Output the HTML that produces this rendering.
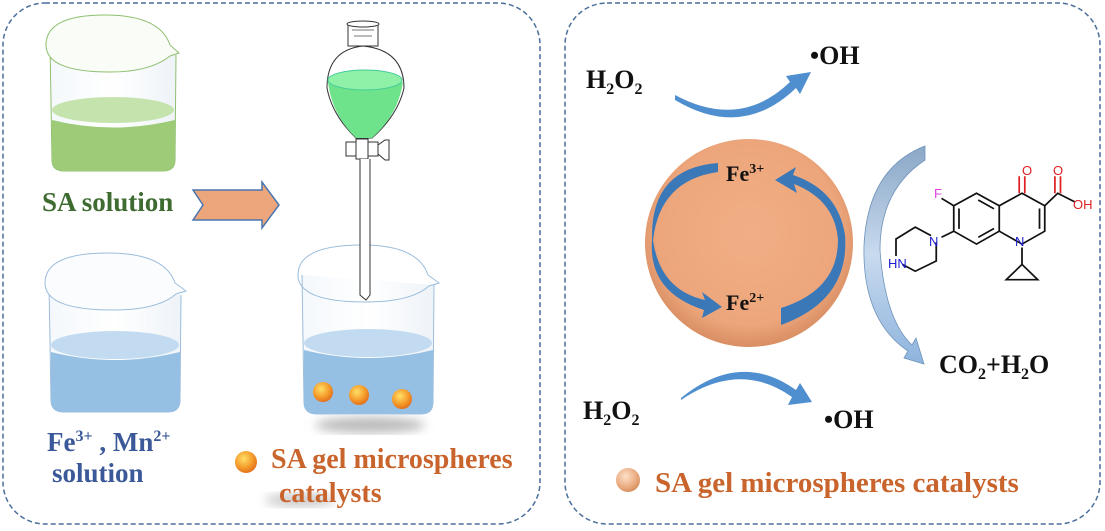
<!DOCTYPE html>
<html><head><meta charset="utf-8"><style>
html,body{margin:0;padding:0;background:#fff;}
svg{display:block;font-family:"Liberation Serif",serif;font-weight:bold;}
</style></head><body>
<svg width="1105" height="531" viewBox="0 0 1105 531" xmlns="http://www.w3.org/2000/svg">
<defs>
<linearGradient id="gl" x1="0" x2="1"><stop offset="0" stop-color="#f4f8fc"/><stop offset="0.5" stop-color="#fff"/><stop offset="1" stop-color="#eef3f8"/></linearGradient>
<radialGradient id="sp" cx="0.4" cy="0.35" r="0.7"><stop offset="0" stop-color="#ffe066"/><stop offset="0.6" stop-color="#f59a2a"/><stop offset="1" stop-color="#e06a1a"/></radialGradient>
<radialGradient id="big" cx="0.5" cy="0.45" r="0.55"><stop offset="0" stop-color="#f1ae84"/><stop offset="0.8" stop-color="#eda67c"/><stop offset="1" stop-color="#d98e63"/></radialGradient>
<radialGradient id="leg" cx="0.4" cy="0.35" r="0.7"><stop offset="0" stop-color="#fde0c8"/><stop offset="0.7" stop-color="#e8a77a"/><stop offset="1" stop-color="#d08a5a"/></radialGradient>
<linearGradient id="bigarr" x1="0" y1="0" x2="0" y2="1"><stop offset="0" stop-color="#8aa7c6"/><stop offset="0.5" stop-color="#c8daee"/><stop offset="1" stop-color="#8eb4dd"/></linearGradient>
<filter id="blur"><feGaussianBlur stdDeviation="5"/></filter>
</defs>
<rect x="3" y="3" width="537" height="521" rx="42" fill="none" stroke="#4a6f9a" stroke-width="1.5" stroke-dasharray="5,3"/>
<rect x="565" y="3" width="535" height="521" rx="42" fill="none" stroke="#4a6f9a" stroke-width="1.5" stroke-dasharray="5,3"/>

<g>
<path d="M50 45 L52 160 Q52 171 64 171 L163 171 Q175 171 175 160 L176 55" fill="url(#gl)" stroke="#8fbf70" stroke-width="1"/>
<path d="M52 120 Q113 135 175 120 L175 160 Q175 171 163 171 L64 171 Q52 171 52 160 Z" fill="#9dcb78"/>
<ellipse cx="113" cy="110" rx="61" ry="13" fill="#c5e3ac"/>
<path d="M46 45 Q46 15 105 15 Q160 15 170 45 L179 53 L170 56 Q150 72 110 72 Q46 72 46 45 Z" fill="#fafdf7" stroke="#8fbf70" stroke-width="1"/>
</g>
<text x="42" y="211" font-size="27" fill="#3d6b30">SA solution</text>
<path d="M193 190 L262 190 L262 182 L279 205 L262 228 L262 220 L193 220 L203 205 Z" fill="#eda67c" stroke="#4a77b0" stroke-width="1.5"/>

<g>
<path d="M49 285 L51 400 Q51 412 64 412 L168 412 Q180 412 180 400 L181 295" fill="url(#gl)" stroke="#9cbddc" stroke-width="1"/>
<path d="M51 352 Q115 368 180 352 L180 400 Q180 412 168 412 L64 412 Q51 412 51 400 Z" fill="#96bfe4"/>
<ellipse cx="115" cy="345" rx="64" ry="14" fill="#c3dbf0"/>
<path d="M45 283 Q45 253 108 253 Q165 253 175 283 L186 291 L176 294 Q158 310 113 310 Q45 310 45 283 Z" fill="#fbfcfe" stroke="#9cbddc" stroke-width="1"/>
</g>
<text x="47" y="451" font-size="27" fill="#3b5998">Fe<tspan font-size="16" dy="-10">3+</tspan><tspan dy="10"> , Mn</tspan><tspan font-size="16" dy="-10">2+</tspan></text>
<text x="52" y="482" font-size="27" fill="#3b5998">solution</text>

<ellipse cx="370" cy="425" rx="55" ry="8" fill="#bbb" filter="url(#blur)"/>
<g>
<path d="M302 275 L304 402 Q304 414 317 414 L421 414 Q433 414 433 402 L434 285" fill="url(#gl)" stroke="#9cbddc" stroke-width="1"/>
<path d="M304 350 Q368 366 433 350 L433 402 Q433 414 421 414 L317 414 Q304 414 304 402 Z" fill="#96bfe4"/>
<ellipse cx="368" cy="343" rx="64" ry="14" fill="#c3dbf0"/>
<path d="M298 275 Q298 245 362 245 Q418 245 428 275 L439 283 L429 286 Q411 302 366 302 Q298 302 298 275 Z" fill="none" stroke="#9cbddc" stroke-width="1"/>
<circle cx="323" cy="392" r="10" fill="url(#sp)"/>
<circle cx="359" cy="395" r="10" fill="url(#sp)"/>
<circle cx="402" cy="399" r="10" fill="url(#sp)"/>
</g>
<g stroke="#333" stroke-width="1" fill="none">
<rect x="348" y="24" width="30" height="22" fill="#fff"/>
<ellipse cx="363" cy="24" rx="16" ry="3" fill="#fff"/>
<path d="M352 30 L374 30 M354 36 L372 36" stroke="#777"/>
<path d="M327 88 Q327 50 363 46 Q404 50 404 88 Q398 115 372 138 L356 138 Q332 115 327 88 Z" fill="#fff"/>
<path d="M328 82 Q365 96 403 82 Q398 115 372 138 L356 138 Q332 115 328 82 Z" fill="#6fe38c" stroke="none"/>
<ellipse cx="365" cy="80" rx="37" ry="10" fill="#8ff0a8" stroke="#4c9"/>
<rect x="346" y="142" width="32" height="14" fill="#fff"/>
<rect x="356" y="139" width="12" height="20" fill="#fff"/>
<path d="M378 145 L385 140 L389 140 L389 160 L385 160 L378 154 Z" fill="#fff"/>
<path d="M360 159 L360 295 L366 300 L370 295 L370 159" fill="#fff"/>
</g>

<ellipse cx="300" cy="500" rx="35" ry="7" fill="#ccc" filter="url(#blur)"/>
<circle cx="246" cy="462" r="11" fill="url(#sp)"/>
<text x="271" y="468" font-size="28" fill="#c8642c">SA gel microspheres</text>
<text x="279" y="502" font-size="28" fill="#c8642c">catalysts</text>

<text x="586" y="88" font-size="26" fill="#111">H<tspan font-size="16" dy="6">2</tspan><tspan dy="-6">O</tspan><tspan font-size="16" dy="6">2</tspan></text>
<text x="810" y="64" font-size="26" fill="#111">•OH</text>
<path d="M675 95 Q740 130 790 82 L786 76 L811 72 L800 94 L796 88 Q742 140 675 100 Z" fill="#4f8fcf"/>

<circle cx="749" cy="243" r="104" fill="url(#big)"/>
<path d="M718 172 Q660 180 653 240 Q660 290 705 300 L702 292 L722 307 L702 318 L704 310 Q648 292 652 240 Q650 168 718 163 Z" fill="#3b78b8"/>
<path d="M781 308 L781 325 Q850 300 845 235 Q838 190 793 175 L796 167 L775 180 L797 193 L794 184 Q835 200 838 240 Q838 290 781 308 Z" fill="#3b78b8"/>
<text x="726" y="181" font-size="22" fill="#111">Fe<tspan font-size="14" dy="-8">3+</tspan></text>
<text x="726" y="310" font-size="22" fill="#111">Fe<tspan font-size="14" dy="-8">2+</tspan></text>

<path d="M925 146 L925 160 Q880 190 880 250 Q885 320 912 345 L916 338 L924 364 L904 358 L908 351 Q862 320 864 245 Q868 168 925 146 Z" fill="url(#bigarr)" stroke="#6f94bb" stroke-width="0.8"/>

<g transform="translate(560,0) scale(0.35,0.339)" stroke="#111" stroke-width="5" fill="none">
<path d="M1190 570 L1255 607 L1255 682 L1190 720 L1125 682 L1125 607 Z"/>
<path d="M1195 590 L1240 616 M1140 615 L1140 675 M1195 700 L1240 674"/>
<path d="M1255 607 L1320 570 L1385 607 L1385 682 L1320 720 L1255 682"/>
<path d="M1370 615 L1370 675"/>
<path d="M1312 570 L1312 520 M1328 570 L1328 520" stroke="#d22"/>
<path d="M1385 607 L1422 570 L1470 595" />
<path d="M1414 570 L1414 520 M1430 570 L1430 520" stroke="#d22"/>
<path d="M1125 607 L1090 585"/>
<path d="M1125 682 L1090 700"/>
<path d="M1075 715 L1075 770 L1015 800 L978 780 M960 755 L960 705 L1015 670 L1060 695"/>
<path d="M1320 730 L1320 780 M1320 780 L1275 825 L1365 825 Z"/>
</g>
<g font-family="Liberation Sans,sans-serif" font-weight="normal" font-size="13">
<text x="1022" y="175" fill="#d22">O</text>
<text x="1053" y="175" fill="#d22">O</text>
<text x="1073" y="209" fill="#d22">OH</text>
<text x="934" y="198" fill="#e040e0">F</text>
<text x="929" y="246" fill="#2020d0">N</text>
<text x="1015" y="246" fill="#2020d0">N</text>
<text x="888" y="268" fill="#2020d0">HN</text>
</g>

<text x="939" y="373" font-size="26" fill="#111">CO<tspan font-size="16" dy="6">2</tspan><tspan dy="-6">+H</tspan><tspan font-size="16" dy="6">2</tspan><tspan dy="-6">O</tspan></text>

<text x="583" y="419" font-size="26" fill="#111">H<tspan font-size="16" dy="6">2</tspan><tspan dy="-6">O</tspan><tspan font-size="16" dy="6">2</tspan></text>
<path d="M681 398 Q740 350 796 390 L800 383 L812 402 L788 405 L792 397 Q740 360 681 400 Z" fill="#4f8fcf"/>
<text x="824" y="428" font-size="26" fill="#111">•OH</text>

<circle cx="628" cy="480" r="12" fill="url(#leg)"/>
<text x="655" y="492" font-size="29" fill="#c8642c">SA gel microspheres catalysts</text>
</svg>
</body></html>
